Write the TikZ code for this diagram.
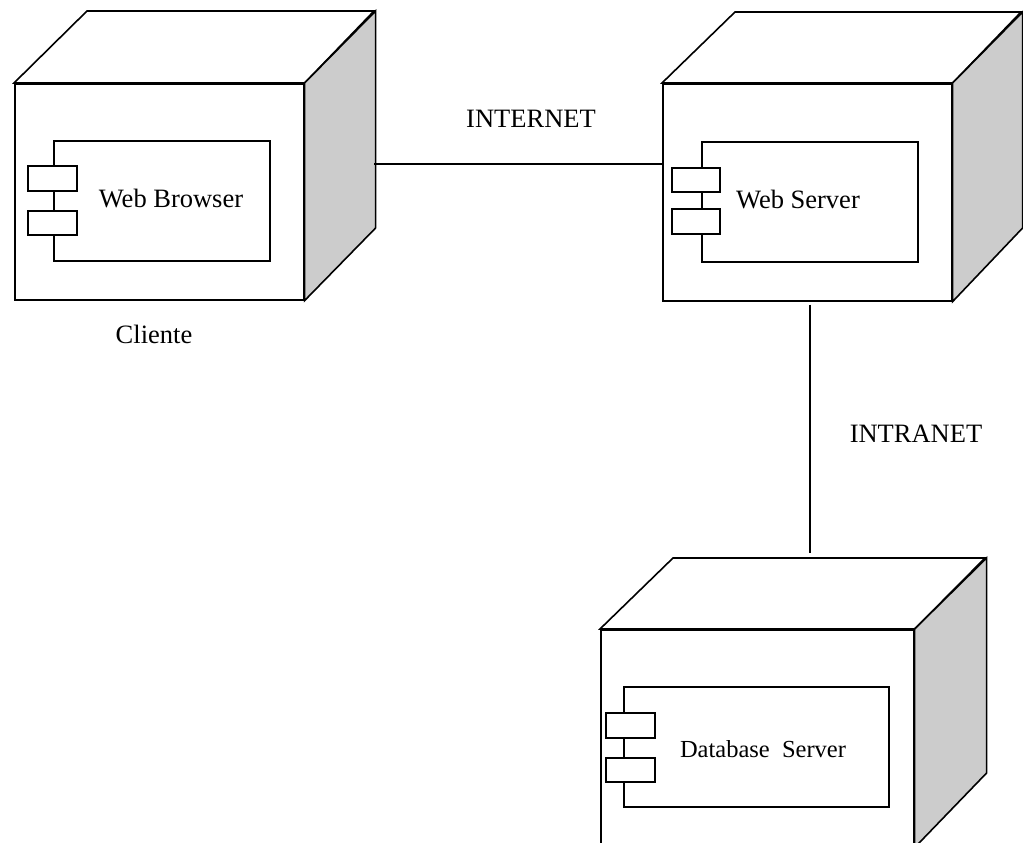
\documentclass[tikz,border=0pt]{standalone}
\usepackage{fontspec}
\setmainfont{Liberation Serif}
\definecolor{sidegray}{HTML}{CCCCCC}
\begin{document}
\begin{tikzpicture}[x=1pt,y=-1pt, line width=1.6pt,
  front/.style={draw, fill=white, inner sep=0pt, anchor=north west},
  face/.style={draw, fill=white, line join=miter},
  side/.style={draw, fill=sidegray, line join=miter},
  comp/.style={draw, fill=white},
  lbl/.style={font=\fontsize{26.5}{30}\selectfont, anchor=base, inner sep=0pt},
  link/.style={draw, line width=1.6pt}]
\clip (0,0) rectangle (1023,843);
\fill[white] (0,0) rectangle (1023,843);

% ---- Cliente node ----
\node[front, minimum width=289pt, minimum height=216pt] (cli) at (14,83) {};
\draw[face] (cli.north west) -- ++(73,-72) -- ++(287,0) -- (cli.north east) -- cycle;
\draw[side] (cli.north east) -- ++(71,-72) -- ++(0,217) -- (cli.south east) -- cycle;
\draw[comp] (54,141) rectangle (270,261);
\draw[comp] (28,166) rectangle (77,191);
\draw[comp] (28,211) rectangle (77,235);
\node[lbl] (wb) at (171,207) {Web Browser};
\node[lbl] (clilbl) at (154,343) {Cliente};

% ---- Web Server node ----
\node[front, minimum width=289pt, minimum height=217pt] (ws) at (662,83) {};
\draw[face] (ws.north west) -- ++(73,-71) -- ++(286,0) -- (ws.north east) -- cycle;
\draw[side] (ws.north east) -- ++(70,-71) -- ++(0,216) -- (ws.south east) -- cycle;
\draw[comp] (702,142) rectangle (918,262);
\draw[comp] (672,168) rectangle (720,192);
\draw[comp] (672,209) rectangle (720,234);
\node[lbl] (wslbl) at (798,208) {Web Server};

% ---- Database Server node ----
\node[front, minimum width=313pt, minimum height=217pt] (db) at (600,629) {};
\draw[face] (db.north west) -- ++(73,-71) -- ++(312,0) -- (db.north east) -- cycle;
\draw[side] (db.north east) -- ++(72,-71) -- ++(0,215) -- (db.south east) -- cycle;
\draw[comp] (624,687) rectangle (889,807);
\draw[comp] (606,713) rectangle (655,738);
\draw[comp] (606,758) rectangle (655,782);
\node[lbl, font=\fontsize{24.5}{28}\selectfont] (dblbl) at (763,757) {Database\ \ Server};

% ---- connectors ----
\coordinate (clie) at (374,164);
\draw[link] (clie) -- (clie -| ws.west);
\node[lbl] (inet) at (531,127) {INTERNET};

\coordinate (dbtop) at (810,553);
\draw[link, shorten <=3pt] (ws.south -| dbtop) -- (dbtop);
\node[lbl] (intra) at (916,442) {INTRANET};
\end{tikzpicture}
\end{document}
